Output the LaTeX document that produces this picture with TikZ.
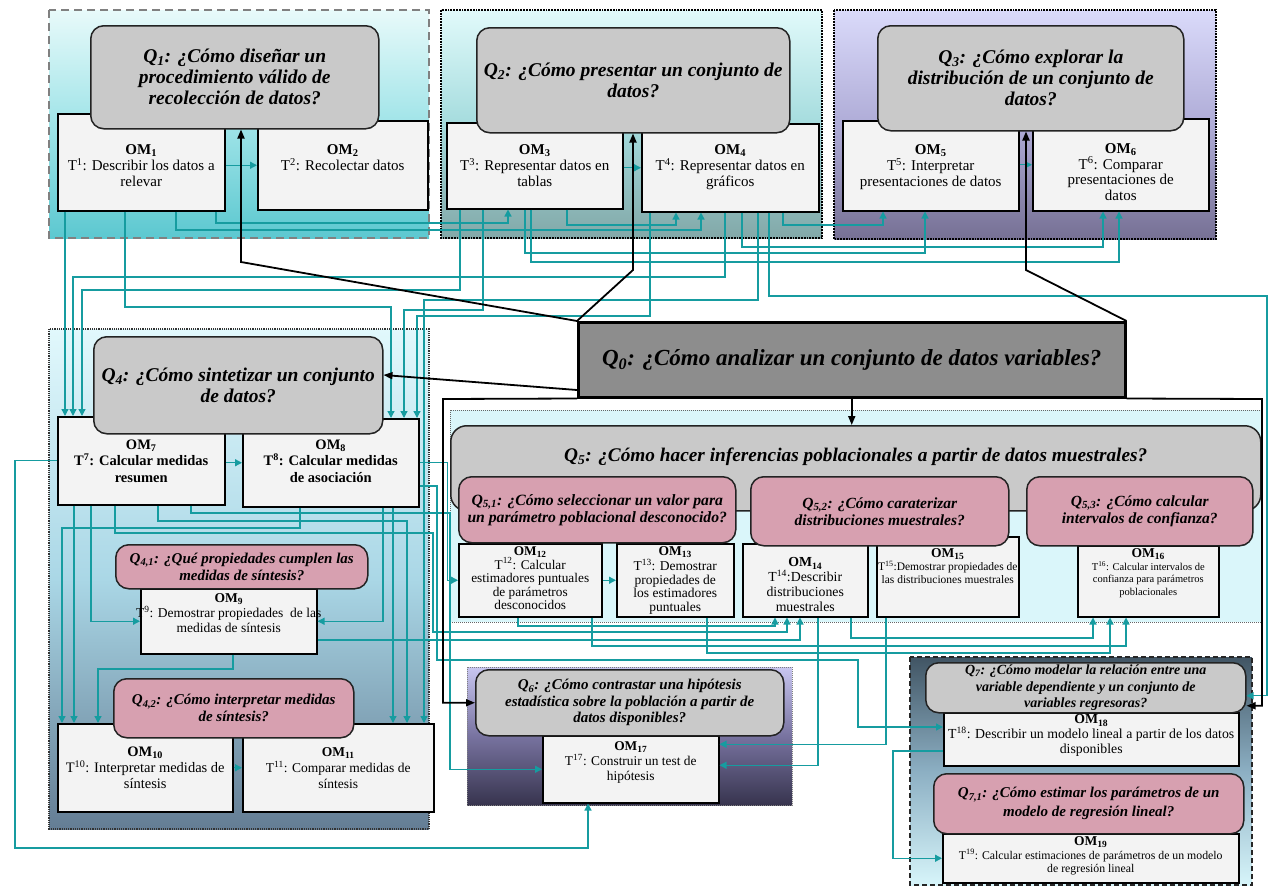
\documentclass[tikz,border=0pt]{standalone}
\usepackage{fontspec}
\setmainfont{Liberation Serif}
\usetikzlibrary{arrows.meta}

\definecolor{tealine}{RGB}{22,156,160}
\definecolor{omfill}{RGB}{243,243,243}
\definecolor{qfill}{RGB}{201,201,201}
\definecolor{qedge}{RGB}{35,35,35}
\definecolor{pinkq}{RGB}{215,160,176}
\definecolor{qzero}{RGB}{141,141,141}
% frame shades
\definecolor{gAt}{RGB}{232,250,250}\definecolor{gAm}{RGB}{160,228,232}\definecolor{gAb}{RGB}{92,200,208}
\definecolor{gBt}{RGB}{225,250,250}\definecolor{gBm}{RGB}{165,220,222}\definecolor{gBb}{RGB}{130,168,168}
\definecolor{gCt}{RGB}{218,218,250}\definecolor{gCm}{RGB}{175,172,215}\definecolor{gCb}{RGB}{118,112,148}
\definecolor{gDt}{RGB}{225,248,252}\definecolor{gDm}{RGB}{170,215,230}\definecolor{gDb}{RGB}{100,125,148}
\definecolor{gE}{RGB}{218,246,250}
\definecolor{gFt}{RGB}{200,198,240}\definecolor{gFm}{RGB}{120,115,160}\definecolor{gFb}{RGB}{55,52,78}
\definecolor{gGt}{RGB}{65,85,100}\definecolor{gGm}{RGB}{140,175,195}\definecolor{gGb}{RGB}{215,245,250}

% width, height, top gap, text
\newcommand{\omcell}[4]{\parbox[c][#2pt][t]{#1pt}{\centering\vspace*{#3pt}#4\par}}

\begin{document}
\begin{tikzpicture}[x=1pt,y=-1pt,
	om/.style={draw=black,line width=1.5pt,fill=omfill,inner sep=0pt,anchor=north west,font=\fontsize{15}{16}\selectfont},
	qq/.style={draw=qedge,line width=1.5pt,fill=qfill,rounded corners=13pt,inner sep=0pt,anchor=north west,align=center,font=\bfseries\itshape\fontsize{19.5}{21}\selectfont},
	qp/.style={qq,fill=pinkq,font=\bfseries\itshape\fontsize{15}{17}\selectfont},
	tl/.style={draw=tealine,line width=1.3pt,-{Triangle[length=7pt,width=7pt]}},
	bk/.style={draw=black,line width=1.8pt,-{Triangle[length=9pt,width=7pt]}}]
	\useasboundingbox (0,0) rectangle (1270,889);
	\fill[white] (0,0) rectangle (1270,889);

	% frames
	\path[top color=gAt,bottom color=gAb,middle color=gAm] (49,10) rectangle (429,238);
	\draw[gray,line width=1.5pt,dash pattern=on 8pt off 5pt] (49,10) rectangle (429,238);
	\path[top color=gBt,bottom color=gBb,middle color=gBm] (441,10) rectangle (822,238);
	\draw[line width=1.8pt,densely dotted] (441,10) rectangle (822,238);
	\path[top color=gCt,bottom color=gCb,middle color=gCm] (834,10) rectangle (1216,239);
	\draw[line width=1.8pt,densely dotted] (834,10) rectangle (1216,239);
	\path[top color=gDt,bottom color=gDb,middle color=gDm] (49,329) rectangle (429,829);
	\draw[black!80,line width=1.2pt,densely dotted] (49,329) rectangle (429,829);
	\fill[gE] (450,410) rectangle (1261,622);
	\draw[black!60,line width=1pt,densely dotted] (450,410) rectangle (1261,622);
	\path[top color=gFt,bottom color=gFb,middle color=gFm] (467,667) rectangle (792,805);
	\draw[black!50,line width=1pt,densely dotted] (467,667) rectangle (792,805);
	\path[top color=gGt,bottom color=gGb,middle color=gGm] (910,657) rectangle (1252,885);
	\draw[black!85,line width=1.8pt,dash pattern=on 5pt off 3pt] (910,657) rectangle (1252,885);

	% praxeologies
	\node[om] (om1) at (57,113) {\omcell{167}{97}{31}{\textbf{OM\textsubscript{1}}\\T\textsuperscript{1}: Describir los datos a\\relevar}};
	\node[om] (om2) at (257,120) {\omcell{170}{89}{24}{\textbf{OM\textsubscript{2}}\\T\textsuperscript{2}: Recolectar datos}};
	\node[om] (om3) at (446,122) {\omcell{176}{86}{22}{\textbf{OM\textsubscript{3}}\\T\textsuperscript{3}: Representar datos en\\tablas}};
	\node[om] (om4) at (641,123) {\omcell{177}{88}{21}{\textbf{OM\textsubscript{4}}\\T\textsuperscript{4}: Representar datos en\\gráficos}};
	\node[om] (om5) at (842,120) {\omcell{176}{90}{24}{\textbf{OM\textsubscript{5}}\\T\textsuperscript{5}: Interpretar\\presentaciones de datos}};
	\node[om,font=\fontsize{15}{15.5}\selectfont] (om6) at (1032,118) {\omcell{176}{92}{25}{\textbf{OM\textsubscript{6}}\\T\textsuperscript{6}: Comparar\\presentaciones de\\datos}};
	\node[om,font=\bfseries\fontsize{14.5}{16.5}\selectfont] (om7) at (57,416) {\omcell{167}{88}{23}{OM\textsubscript{7}\\T\textsuperscript{7}: Calcular medidas\\resumen}};
	\node[om,font=\bfseries\fontsize{14.5}{16.5}\selectfont] (om8) at (242,418) {\omcell{176}{88}{21}{OM\textsubscript{8}\\T\textsuperscript{8}: Calcular medidas\\de asociación}};
	\node[om,font=\fontsize{13.5}{15}\selectfont] (om9) at (140,588) {\omcell{176}{65}{5}{\textbf{OM\textsubscript{9}}\\\makebox[176pt][c]{T\textsuperscript{9}: Demostrar propiedades\ \ de las}\\medidas de síntesis}};
	\node[om,font=\fontsize{14.5}{16}\selectfont] (om10) at (57,723) {\omcell{175}{88}{23}{\textbf{OM\textsubscript{10}}\\T\textsuperscript{10}: Interpretar medidas de\\síntesis}};
	\node[om,font=\fontsize{13.5}{16}\selectfont] (om11) at (242,723) {\omcell{191}{88}{24}{\textbf{OM\textsubscript{11}}\\T\textsuperscript{11}: Comparar medidas de\\síntesis}};
	\node[om,font=\fontsize{13.3}{13.6}\selectfont] (om12) at (458,543) {\omcell{143}{73}{3}{\textbf{OM\textsubscript{12}}\\T\textsuperscript{12}: Calcular\\estimadores puntuales\\de parámetros\\desconocidos}};
	\node[om,font=\fontsize{13.5}{13.6}\selectfont] (om13) at (616,543) {\omcell{117}{73}{3}{\textbf{OM\textsubscript{13}}\\T\textsuperscript{13}: Demostrar\\propiedades de\\los estimadores\\puntuales}};
	\node[om,font=\fontsize{13.8}{15}\selectfont] (om14) at (742,543) {\omcell{125}{73}{14}{\textbf{OM\textsubscript{14}}\\T\textsuperscript{14}:Describir\\distribuciones\\muestrales}};
	\node[om,font=\fontsize{11.5}{13}\selectfont] (om15) at (876,536) {\omcell{142}{80}{12}{{\fontsize{13.5}{14}\selectfont\textbf{OM\textsubscript{15}}}\\T\textsuperscript{15}:Demostrar propiedades de\\las distribuciones muestrales}};
	\node[om,font=\fontsize{10.5}{12.5}\selectfont] (om16) at (1077,545) {\omcell{141}{71}{3}{{\fontsize{13.5}{14}\selectfont\textbf{OM\textsubscript{16}}}\\T\textsuperscript{16}: Calcular intervalos de\\confianza para parámetros\\poblacionales}};
	\node[om,font=\fontsize{13.4}{15}\selectfont] (om17) at (542,735) {\omcell{176}{67}{6}{\textbf{OM\textsubscript{17}}\\T\textsuperscript{17}: Construir un test de\\hipótesis}};
	\node[om,font=\fontsize{13.8}{15}\selectfont] (om18) at (943,712) {\omcell{295}{53}{2}{\textbf{OM\textsubscript{18}}\\T\textsuperscript{18}: Describir un modelo lineal a partir de los datos\\disponibles}};
	\node[om,font=\fontsize{11.8}{13.5}\selectfont] (om19) at (942,833) {\omcell{296}{49}{3}{{\fontsize{13.5}{14}\selectfont\textbf{OM\textsubscript{19}}}\\T\textsuperscript{19}: Calcular estimaciones de parámetros de un modelo\\de regresión lineal}};

	% questions
	\node[qq,minimum width=288pt,minimum height=103pt] (q1) at (90,25) {Q\textsubscript{1}: ¿Cómo diseñar un\\procedimiento válido de\\recolección de datos?};
	\node[qq,minimum width=313pt,minimum height=105pt] (q2) at (476,27) {Q\textsubscript{2}: ¿Cómo presentar un conjunto de\\datos?};
	\node[qq,minimum width=306pt,minimum height=105pt] (q3) at (877,25) {Q\textsubscript{3}: ¿Cómo explorar la\\distribución de un conjunto de\\datos?};
	\node[qq,sharp corners,draw=black,fill=qzero,line width=2.5pt,minimum width=547pt,minimum height=75pt,font=\bfseries\itshape\fontsize{23}{26}\selectfont] (q0) at (577,321) {Q\textsubscript{0}: ¿Cómo analizar un conjunto de datos variables?};
	\node[qq,minimum width=289pt,minimum height=97pt] (q4) at (93,336) {Q\textsubscript{4}: ¿Cómo sintetizar un conjunto\\de datos?};
	\node[qp,minimum width=252pt,minimum height=44pt] (q41) at (115,544) {Q\textsubscript{4,1}: ¿Qué propiedades cumplen las\\medidas de síntesis?};
	\node[qp,minimum width=240pt,minimum height=59pt] (q42) at (113,678) {Q\textsubscript{4,2}: ¿Cómo interpretar medidas\\de síntesis?};
	\node[qq,rounded corners=16pt,font=\bfseries\itshape\fontsize{19.3}{21}\selectfont] (q5) at (450,425) {\omcell{810}{85}{22}{Q\textsubscript{5}: ¿Cómo hacer inferencias poblacionales a partir de datos muestrales?}};
	\node[qp,minimum width=277pt,minimum height=66pt,font=\bfseries\itshape\fontsize{15.7}{17}\selectfont] (q51) at (458,476) {Q\textsubscript{5,1}: ¿Cómo seleccionar un valor para\\un parámetro poblacional desconocido?};
	\node[qp,minimum width=258pt,minimum height=69pt,font=\bfseries\itshape\fontsize{15.5}{17}\selectfont] (q52) at (750,476) {Q\textsubscript{5,2}: ¿Cómo caraterizar\\distribuciones muestrales?};
	\node[qp,minimum width=226pt,minimum height=69pt,font=\bfseries\itshape\fontsize{15.5}{17}\selectfont] (q53) at (1026,476) {Q\textsubscript{5,3}: ¿Cómo calcular\\intervalos de confianza?};
	\node[qq,minimum width=308pt,minimum height=66pt,font=\bfseries\itshape\fontsize{15}{16.5}\selectfont] (q6) at (475,669) {Q\textsubscript{6}: ¿Cómo contrastar una hipótesis\\estadística sobre la población a partir de\\datos disponibles?};
	\node[qq,minimum width=320pt,minimum height=50pt,font=\bfseries\itshape\fontsize{14}{16.5}\selectfont] (q7) at (925,662) {Q\textsubscript{7}: ¿Cómo modelar la relación entre una\\variable dependiente y un conjunto de\\variables regresoras?};
	\node[qp,minimum width=310pt,minimum height=60pt,font=\bfseries\itshape\fontsize{15}{19}\selectfont] (q71) at (933,773) {Q\textsubscript{7,1}: ¿Cómo estimar los parámetros de un\\modelo de regresión lineal?};

	% teal links, top row
	\draw[tl] (om1.east |- om2.west) -- (om2.west);
	\draw[tl] (om3.east |- om4.west) -- (om4.west);
	\draw[tl] (om5.east |- om6.west) -- (om6.west);
	\draw[tl] (om1.south -| 216,0) |- (508,223) -- (om3.south -| 508,0);
	\draw[tl] (om1.south -| 176,0) |- (701,230) -- (om4.south -| 701,0);
	\draw[tl] (om3.south -| 567,0) |- (676,225) -- (om4.south -| 676,0);
	\draw[tl] (om4.south -| 783,0) |- (883,225) -- (om5.south -| 883,0);
	\draw[tl] (om3.south -| 525,0) |- (925,253) -- (om5.south -| 925,0);
	\draw[tl] (om3.south -| 531,0) |- (1119,262) -- (om6.south -| 1119,0);
	\draw[tl] (om4.south -| 742,0) |- (1103,247) -- (om6.south -| 1103,0);

	% top row down to Q4 and Q7
	\draw[tl] (om1.south -| 65,0) -- (om7.north -| 65,0);
	\draw[tl] (om4.south -| 725,0) |- (73,277) -- (om7.north -| 73,0);
	\draw[tl] (om3.south -| 460,0) |- (82,290) -- (om7.north -| 82,0);
	\draw[tl] (om1.south -| 125,0) |- (391,307) -- (om8.north -| 391,0);
	\draw[tl] (om3.south -| 483,0) |- (404,310) -- (om8.north -| 404,0);
	\draw[tl] (om4.south -| 650,0) |- (417,316) -- (om8.north -| 417,0);
	\draw[tl] (om4.south -| 758,0) |- (424,300) -- (om11.north -| 424,0);
	\draw[tl] (om4.south -| 769,0) |- (1267,296) |- ([yshift=-8pt]q7.east);

	% inside Q4
	\draw[tl] (om7.east |- om8.west) -- (om8.west);
	\draw[tl] (om7.south -| 74,0) -- (om10.north -| 74,0);
	\draw[tl] (om7.south -| 91,0) |- (om9.west);
	\draw[tl] (om7.south -| 158,0) |- (407,521) -- (om11.north -| 407,0);
	\draw[tl] (om8.south -| 300,0) |- (62,528) -- (om10.north -| 62,0);
	\draw[tl] (om8.south -| 383,0) |- (om9.east);
	\draw[tl] (om8.south -| 393,0) -- (om11.north -| 393,0);
	\draw[tl] (om9.south -| 233,0) |- (98,669) -- (om10.north -| 98,0);
	\draw[tl] (om10.east) -- (om11.west);

	% Q4 towards Q5, Q6, Q7
	\draw[tl] (om7.west) -| (15,848) -| (om17.south -| 588,0);
	\draw[tl] (om7.south -| 191,0) |- (450,513) |- (om17.west);
	\draw[tl] (om7.south -| 115,0) |- (433,533) |- (787,632) -- (om14.south -| 787,0);
	\draw[tl] (om8.east) -- ++(28,0) |- (om12.west);
	\draw[tl] (om9.east |- 0,640) -| (om14.south -| 800,0);
	\draw[tl] (om8.east |- 0,486) -- (437,486) |- (858,660) |- (om18.west |- 0,727);

	% inside Q5 and below
	\draw[tl] (om12.east |- om13.west) -- (om13.west);
	\draw[tl] (om12.south -| 518,0) |- (775,626) -- (om14.south -| 775,0);
	\draw[tl] (om12.south -| 592,0) |- (1126,646) -- (om16.south -| 1126,0);
	\draw[tl] (om13.south -| 707,0) |- (1110,653) -- (om16.south -| 1110,0);
	\draw[tl] (om14.south -| 851,0) |- (1093,638) -- (om16.south -| 1093,0);
	\draw[tl] (om14.south -| 818,0) |- ([yshift=4pt]om17.east);
	\draw[tl] (om15.south -| 886,0) |- ([yshift=25pt]om17.east);
	\draw[tl] (om18.west |- 0,751) -- (893,751) |- (om19.west);

	% black links from Q0
	\coordinate (k1) at (241,262);
	\coordinate (k2) at (633,270);
	\coordinate (k3) at (1026,270);
	\draw[bk] (q0.north west) -- (k1) -- (k1 |- q1.south);
	\draw[bk] (q0.north west) -- (k2) -- (k2 |- q2.south);
	\draw[bk] (q0.north east) -- (k3) -- (k3 |- q3.south);
	\draw[bk] (q0.west |- 0,390) -- (q4.east |- 0,375);
	\draw[bk] (q0.south) -- (q0.south |- q5.north);
	\draw[bk] (q0.south west) -- (443,399) |- (q6.west);
	\draw[bk] (q0.south east) -- (1262,399) |- ([yshift=-18pt]q7.east);
\end{tikzpicture}
\end{document}
